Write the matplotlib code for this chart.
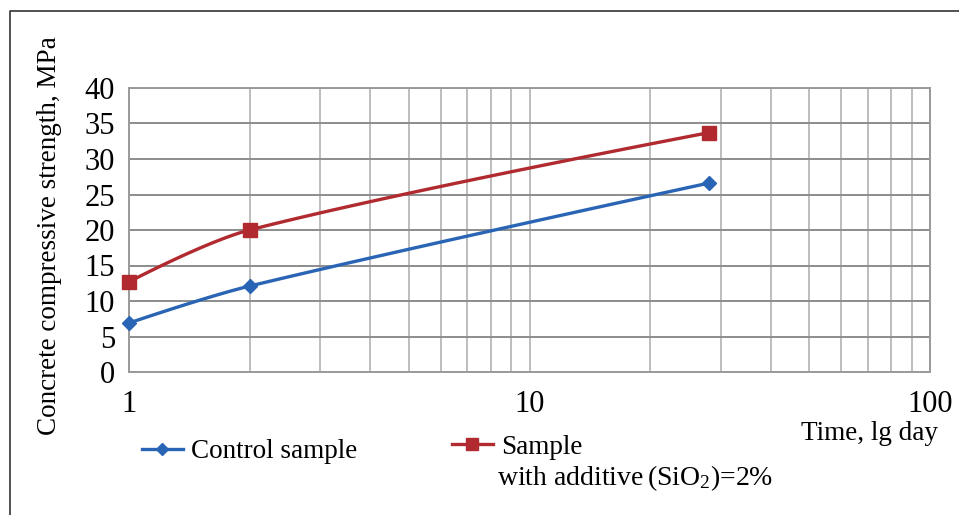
import numpy as np
import matplotlib
matplotlib.use("Agg")
import matplotlib.pyplot as plt
from matplotlib.lines import Line2D

plt.rcParams['font.family'] = ['Liberation Serif', 'DejaVu Serif']
plt.rcParams['mathtext.fontset'] = 'custom'
plt.rcParams['mathtext.rm'] = 'Liberation Serif'

days = [1, 2, 28]
control = [6.9, 12.1, 26.6]
sample = [12.7, 20.0, 33.7]
y_ticks = [0, 5, 10, 15, 20, 25, 30, 35, 40]

blue = '#2a64b4'
red = '#b02a30'


def smooth(ax, xs, ys, n=60):
    # excel-like smoothed line, built in display space
    pts = ax.transData.transform(np.column_stack([xs, ys]))
    out = []
    for i in range(len(pts) - 1):
        p0, p3 = pts[i], pts[i + 1]
        seg = np.linalg.norm(p3 - p0)
        if i > 0:
            t = pts[i + 1] - pts[i - 1]
            c1 = p0 + t / np.linalg.norm(t) * seg / 3
        else:
            c1 = p0
        if i + 2 < len(pts):
            t = pts[i + 2] - pts[i]
            c2 = p3 - t / np.linalg.norm(t) * seg / 3
        else:
            c2 = p3
        s = np.linspace(0, 1, n)[:, None]
        b = (1 - s) ** 3 * p0 + 3 * (1 - s) ** 2 * s * c1 + 3 * (1 - s) * s ** 2 * c2 + s ** 3 * p3
        out.append(b)
    out = ax.transData.inverted().transform(np.vstack(out))
    return out[:, 0], out[:, 1]


fig = plt.figure(figsize=(9.59, 5.15), dpi=100)
ax = fig.add_axes([129 / 959, 1 - 372 / 515, 801 / 959, 284 / 515])
ax.set_xscale('log')
ax.set_xlim(1, 100)
ax.set_ylim(0, 40)
ax.set_yticks(y_ticks)
ax.set_xticks([1, 10, 100])
ax.set_xticklabels(['1', '10', '100'])
ax.xaxis.set_minor_formatter(matplotlib.ticker.NullFormatter())
ax.tick_params(axis='both', which='both', length=0, labelsize=22)
ax.tick_params(axis='x', pad=13)
ax.tick_params(axis='y', pad=10)
ax.grid(True, axis='y', color='#8c8c8c', lw=1.4)
ax.grid(True, axis='x', which='both', color='#bdbdbd', lw=1.4)
ax.set_axisbelow(True)
for s in ax.spines.values():
    s.set_color('#9a9a9a')
    s.set_linewidth(1.4)

fig.canvas.draw()
for ys, col, mk, ms in [(control, blue, 'D', 7), (sample, red, 's', 10)]:
    sx, sy = smooth(ax, days, ys)
    ax.plot(sx, sy, color=col, lw=2.4, clip_on=False)
    ax.plot(days, ys, ls='none', marker=mk, ms=ms, color=col, clip_on=False, zorder=5)

fig.text(50 / 959, 1 - 236 / 515, 'Concrete compressive strength, MPa', rotation=90,
         ha='center', va='center', fontsize=19.5)
fig.text(938 / 959, 1 - 434 / 515, 'Time, lg day', ha='right', va='center', fontsize=19.5)

h1 = Line2D([], [], color=blue, lw=2.4, marker='D', ms=6)
h2 = Line2D([], [], color=red, lw=2.4, marker='s', ms=9)
kw = dict(frameon=False, fontsize=19.5, borderpad=0, borderaxespad=0,
          handlelength=1.5, handletextpad=0.3, loc='center left')
leg1 = fig.legend([h1], ['Control sample'], bbox_to_anchor=(142 / 959, 1 - 452 / 515), **kw)
leg2 = fig.legend([h2], ['Sample'], bbox_to_anchor=(452 / 959, 1 - 447 / 515), **kw)
fig.text(497 / 959, 1 - 478 / 515, r'with additive$\,(\mathrm{SiO_2})$=2%',
         ha='left', va='center', fontsize=20)

# outer frame (top and left edges visible)
fig.add_artist(Line2D([10 / 959, 10 / 959, 1], [0, 1 - 11 / 515, 1 - 11 / 515],
                      transform=fig.transFigure, color='#333333', lw=1.2))

fig.savefig('out.png', dpi=100)
